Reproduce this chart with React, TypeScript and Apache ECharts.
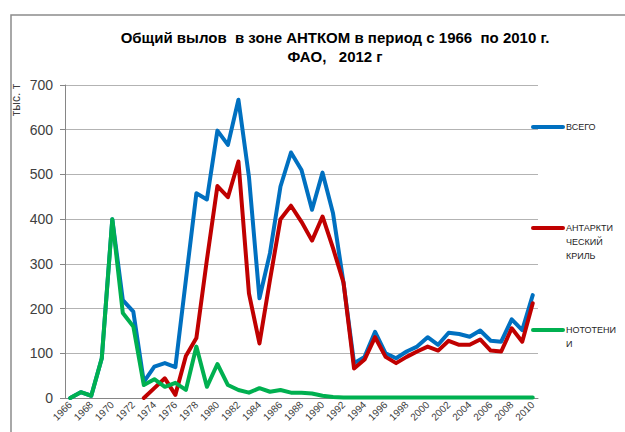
import React, { useEffect, useRef } from "react";
import * as echarts from "echarts";

const years: string[] = [];
for (let y = 1966; y <= 2010; y++) years.push(String(y));

const totalCatch = [
  0, 13, 5, 89, 400, 219, 193, 36, 70, 78,
  69, 264, 458, 444, 598, 566, 667, 495, 223, 324,
  473, 549, 510, 421, 504, 413, 257, 78, 92, 148,
  100, 89, 104, 115, 136, 119, 146, 143, 137, 151,
  128, 126, 176, 152, 230,
];

const krillCatch = [
  null, null, null, null, null, null, null, 0, 22, 44,
  7, 94, 134, 309, 474, 449, 529, 234, 122, 264,
  400, 430, 394, 352, 406, 335, 258, 66, 86, 136,
  92, 78, 92, 104, 115, 106, 128, 119, 119, 131,
  106, 104, 156, 126, 212,
];

const toothfishCatch = [
  0, 13, 5, 89, 400, 190, 160, 29, 42, 25,
  34, 18, 115, 25, 76, 29, 18, 12, 22, 14,
  18, 12, 12, 10, 5, 2, 1, 1, 1, 1,
  1, 1, 1, 1, 1, 1, 1, 1, 1, 1,
  1, 1, 1, 1, 1,
];

const seriesNames = ["ВСЕГО", "АНТАРКТИЧЕСКИЙ КРИЛЬ", "НОТОТЕНИИ"];
const legendLabels = ["ВСЕГО", "АНТАРКТИ\nЧЕСКИЙ\nКРИЛЬ", "НОТОТЕНИ\nИ"];
const colors = ["#0070C0", "#C00000", "#00B050"];
const titleText = "Общий вылов  в зоне АНТКОМ в период с 1966  по 2010 г.\nФАО,   2012 г";
const yAxisName = "тыс. т";

export default function App() {
  const ref = useRef<HTMLDivElement>(null);
  useEffect(() => {
    if (!ref.current) return;
    const chart = echarts.init(ref.current, null, { renderer: "svg" });
    const font = "'Liberation Sans', Arial, sans-serif";
    const legendY = [127, 228, 330];
    const legendGraphics: any[] = [];
    legendLabels.forEach((lbl, i) => {
      legendGraphics.push({
        type: "line",
        shape: { x1: 533, y1: legendY[i], x2: 563, y2: legendY[i] },
        style: { stroke: colors[i], lineWidth: 4, lineCap: "round" },
      });
      legendGraphics.push({
        type: "text",
        x: 566,
        y: legendY[i] - 7,
        style: {
          text: lbl,
          fontSize: 9,
          lineHeight: 14,
          fontFamily: font,
          fill: "#262626",
          textVerticalAlign: "top",
        },
      });
    });
    chart.setOption({
      animation: false,
      backgroundColor: "#ffffff",
      title: {
        text: titleText,
        left: 330,
        top: 23,
        textAlign: "center",
        textStyle: {
          fontFamily: font,
          fontSize: 15,
          fontWeight: "bold",
          color: "#000000",
          lineHeight: 19,
        },
      },
      graphic: [
        {
          type: "rect",
          shape: { x: 11, y: 15, width: 800, height: 600 },
          style: { fill: "none", stroke: "#8c8c8c", lineWidth: 1.5 },
          silent: true,
        },
        {
          type: "text",
          x: 10,
          y: 100,
          rotation: Math.PI / 2,
          style: {
            text: yAxisName,
            fontSize: 12,
            fontFamily: font,
            fill: "#404040",
            textAlign: "center",
            textVerticalAlign: "top",
          },
        },
        ...legendGraphics,
      ],
      grid: { left: 65, right: 87, top: 85, bottom: 34, containLabel: false },
      xAxis: {
        type: "category",
        data: years,
        boundaryGap: true,
        axisLine: { lineStyle: { color: "#868686", width: 1 } },
        axisTick: { interval: 0, length: 5, lineStyle: { color: "#868686" } },
        axisLabel: {
          interval: 1,
          rotate: 45,
          fontSize: 10,
          fontFamily: font,
          color: "#404040",
          margin: 5,
        },
      },
      yAxis: {
        type: "value",
        min: 0,
        max: 700,
        interval: 100,
        axisLine: { show: true, lineStyle: { color: "#868686", width: 1 } },
        axisTick: { show: true, length: 5, lineStyle: { color: "#868686" } },
        axisLabel: { fontSize: 14, fontFamily: font, color: "#404040", margin: 12 },
        splitLine: { lineStyle: { color: "#b3b3b3", width: 1 } },
      },
      series: [
        { name: seriesNames[0], data: totalCatch, color: colors[0] },
        { name: seriesNames[1], data: krillCatch, color: colors[1] },
        { name: seriesNames[2], data: toothfishCatch, color: colors[2] },
      ].map((s) => ({
        ...s,
        type: "line",
        symbol: "none",
        lineStyle: { width: 4, color: s.color, cap: "round", join: "round" },
        itemStyle: { color: s.color },
        connectNulls: false,
      })),
    });
    return () => chart.dispose();
  }, []);
  return <div ref={ref} style={{ width: 625, height: 432, position: "fixed", left: 0, top: 0 }} />;
}
